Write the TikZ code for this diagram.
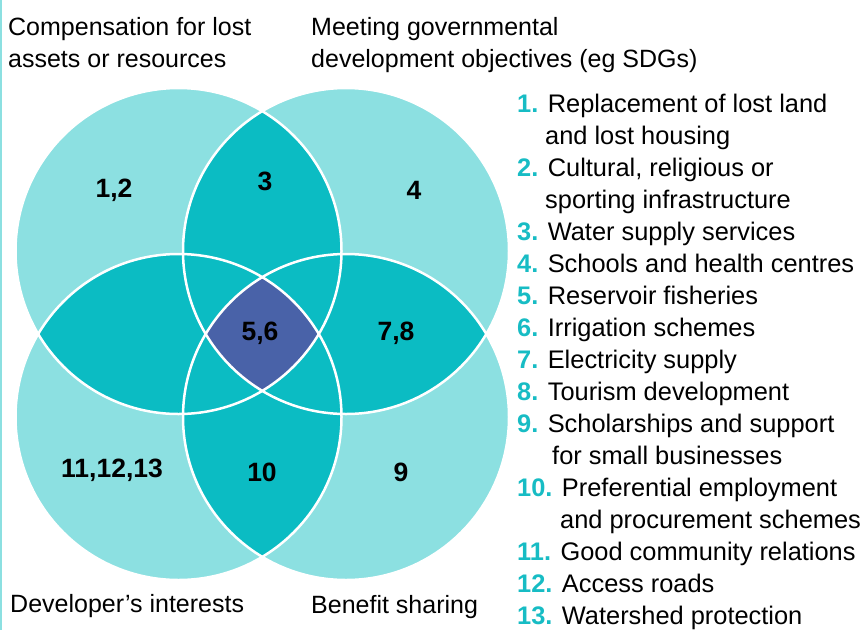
\documentclass[tikz,border=0pt]{standalone}
\usepackage{fontspec}
\setmainfont{Liberation Sans}
\usepackage{tikz}
\usetikzlibrary{positioning}
\definecolor{setcyan}{HTML}{8CE0E1}
\definecolor{pairteal}{HTML}{0BBCC3}
\definecolor{coreblue}{HTML}{4962A8}
\definecolor{numteal}{HTML}{17BCC4}
\newcommand{\lnum}[1]{\textcolor{numteal}{\bfseries #1}}
\tikzset{
	setdisc/.style={fill=setcyan}, % one set only
	pairdisc/.style={fill=pairteal}, % overlap of two or more sets
	coredisc/.style={fill=coreblue}, % overlap of all four sets
	setline/.style={draw=white, line width=2.5pt}, % white rim of each set
	regionlabel/.style={font=\fontsize{26.5}{30}\selectfont\bfseries, inner sep=0pt},
	setlabel/.style={font=\fontsize{25}{32}\selectfont, anchor=base west, inner sep=0pt, align=left},
	listline/.style={font=\fontsize{25.4}{32}\selectfont, anchor=base west, inner sep=0pt},
}

\begin{document}
\begin{tikzpicture}[x=1pt, y=-1pt]
	\useasboundingbox (0,0) rectangle (862,630);
	% thin panel rim on the left
	\draw[setcyan, line width=2pt] (1,0) -- (1,630);

	% centres of the four sets
	\coordinate (TL) at (178.5,251);
	\coordinate (TR) at (346,251);
	\coordinate (BL) at (178.5,417);
	\coordinate (BR) at (346,417);

	% single sets
	\foreach \c in {TL,TR,BL,BR}
		\fill[setdisc] (\c) circle[radius=163pt];
	% overlaps of two sets
	\foreach \a/\b in {TL/TR,TL/BL,TL/BR,TR/BL,TR/BR,BL/BR}{
		\begin{scope}
			\clip (\a) circle[radius=163pt];
			\fill[pairdisc] (\b) circle[radius=163pt];
		\end{scope}
	}
	% overlap of all four
	\begin{scope}
		\clip (TL) circle[radius=163pt];
		\clip (TR) circle[radius=163pt];
		\clip (BL) circle[radius=163pt];
		\fill[coredisc] (BR) circle[radius=163pt];
	\end{scope}
	% rims
	\foreach \c in {TL,TR,BL,BR}
		\draw[setline] (\c) circle[radius=163pt];

	% numbers in the regions
	\node[regionlabel] (r12) at (114,190) {1,2};
	\node[regionlabel] (r3) at (265,181) {3};
	\node[regionlabel] (r4) at (414,190) {4};
	\node[regionlabel] (r56) at (260,333) {5,6};
	\node[regionlabel] (r78) at (396,333) {7,8};
	\node[regionlabel] (r111213) at (112,470) {11,12,13};
	\node[regionlabel] (r10) at (262,472) {10};
	\node[regionlabel] (r9) at (401,472) {9};

	% names of the sets (base = last line)
	\node[setlabel] (compensation) at (8,67) {Compensation for lost\\assets or resources};
	\node[setlabel] (meeting) at (311,67) {Meeting governmental\\development objectives (eg SDGs)};
	\node[setlabel] (developer) at (10,612) {Developer’s interests};
	\node[setlabel] (benefit) at (311,613) {Benefit sharing};

	% key
	\node[listline] (k1) at (517,112) {\lnum{1.} Replacement of lost land};
	\node[listline] (k1b) at (545,144) {and lost housing};
	\node[listline] (k2) at (517,176) {\lnum{2.} Cultural, religious or};
	\node[listline] (k2b) at (545,208) {sporting infrastructure};
	\node[listline] (k3) at (517,240) {\lnum{3.} Water supply services};
	\node[listline] (k4) at (517,272) {\lnum{4.} Schools and health centres};
	\node[listline] (k5) at (517,304) {\lnum{5.} Reservoir fisheries};
	\node[listline] (k6) at (517,336) {\lnum{6.} Irrigation schemes};
	\node[listline] (k7) at (517,368) {\lnum{7.} Electricity supply};
	\node[listline] (k8) at (517,400) {\lnum{8.} Tourism development};
	\node[listline] (k9) at (517,432) {\lnum{9.} Scholarships and support};
	\node[listline] (k9b) at (552,464) {for small businesses};
	\node[listline] (k10) at (517,496) {\lnum{10.} Preferential employment};
	\node[listline] (k10b) at (560,528) {and procurement schemes};
	\node[listline] (k11) at (517,560) {\lnum{11.} Good community relations};
	\node[listline] (k12) at (517,592) {\lnum{12.} Access roads};
	\node[listline] (k13) at (517,624) {\lnum{13.} Watershed protection};
\end{tikzpicture}
\end{document}
